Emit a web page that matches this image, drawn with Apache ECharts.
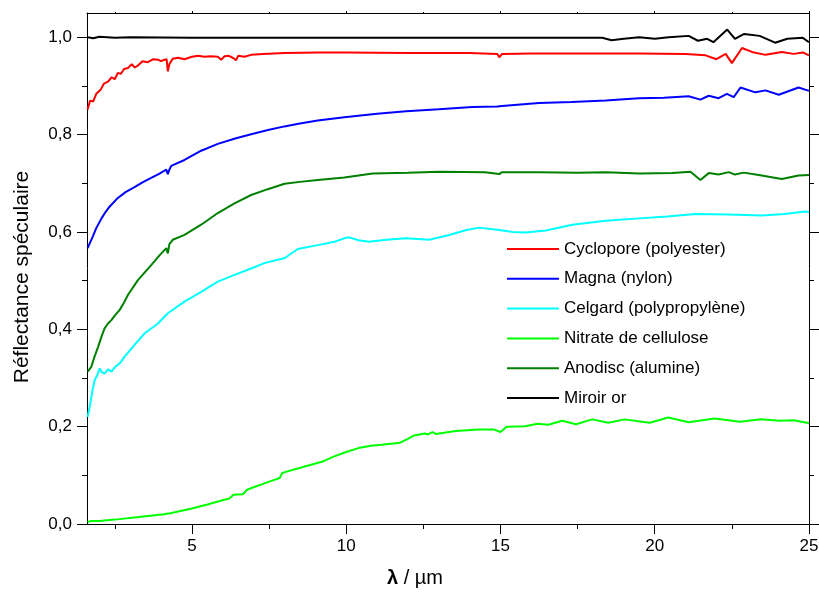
<!DOCTYPE html>
<html><head><meta charset="utf-8">
<script src="https://cdn.jsdelivr.net/npm/echarts@6/dist/echarts.min.js"></script>
<style>html,body{margin:0;padding:0;background:#fff}#c{width:819px;height:592px}</style>
</head><body><div id="c"></div>
<script>
// ---- data ----
const seriesNames = ['Cyclopore (polyester)', 'Magna (nylon)', 'Celgard (polypropylène)', 'Nitrate de cellulose', 'Anodisc (alumine)', 'Miroir or'];
const seriesColors = ['#ff0000', '#0000ff', '#00ffff', '#00ff00', '#008000', '#000000'];

const xMajorTicks = [5, 10, 15, 20, 25];
const xMinorTicks = [2.5, 7.5, 12.5, 17.5, 22.5];
const yMajorTicks = [0, 0.2, 0.4, 0.6, 0.8, 1.0];
const yMinorTicks = [0.1, 0.3, 0.5, 0.7, 0.9];

const cyclopore = [[1.62,0.852],[1.7,0.87],[1.8,0.868],[1.9,0.884],[1.96,0.886],[2.05,0.893],[2.15,0.905],[2.28,0.909],[2.4,0.918],[2.5,0.914],[2.6,0.927],[2.7,0.925],[2.8,0.935],[2.93,0.937],[3.05,0.945],[3.15,0.938],[3.25,0.942],[3.4,0.951],[3.57,0.949],[3.75,0.955],[3.9,0.954],[4.0,0.951],[4.11,0.954],[4.18,0.955],[4.22,0.930],[4.27,0.945],[4.38,0.956],[4.55,0.958],[4.76,0.955],[5.0,0.960],[5.2,0.962],[5.41,0.960],[5.6,0.961],[5.84,0.960],[5.9,0.963],[5.95,0.954],[6.05,0.961],[6.2,0.962],[6.35,0.957],[6.43,0.953],[6.5,0.962],[6.7,0.960],[6.92,0.964],[7.3,0.966],[8.0,0.968],[9.08,0.969],[10.0,0.969],[12,0.968],[14.0,0.968],[14.9,0.966],[14.96,0.959],[15.05,0.966],[16,0.967],[18,0.967],[19.5,0.967],[21.0,0.966],[21.65,0.963],[22.0,0.955],[22.3,0.966],[22.5,0.947],[22.83,0.978],[23.15,0.970],[23.59,0.964],[24.12,0.970],[24.5,0.966],[24.8,0.969],[25,0.963]];

const magna = [[1.62,0.567],[1.79,0.591],[1.9,0.608],[2.07,0.628],[2.2,0.641],[2.33,0.652],[2.6,0.670],[2.85,0.682],[3.14,0.692],[3.4,0.702],[3.68,0.711],[3.95,0.720],[4.17,0.728],[4.2,0.725],[4.22,0.719],[4.27,0.728],[4.33,0.736],[4.76,0.748],[5.3,0.767],[5.84,0.781],[6.4,0.792],[6.92,0.801],[7.5,0.810],[8.0,0.817],[8.5,0.823],[9.08,0.829],[9.94,0.836],[11.0,0.843],[11.94,0.848],[13.0,0.852],[14.09,0.857],[14.9,0.858],[14.96,0.854],[15.05,0.859],[16.25,0.865],[17.3,0.867],[18.41,0.870],[19.49,0.875],[20.3,0.876],[21.1,0.879],[21.48,0.872],[21.75,0.880],[22.07,0.875],[22.34,0.884],[22.56,0.877],[22.78,0.897],[23.26,0.887],[23.59,0.891],[24.02,0.882],[24.66,0.897],[25,0.890]];

const celgard = [[1.62,0.220],[1.7,0.245],[1.78,0.275],[1.85,0.296],[1.93,0.305],[2.01,0.320],[2.08,0.312],[2.17,0.309],[2.28,0.318],[2.39,0.313],[2.5,0.322],[2.6,0.327],[2.7,0.333],[2.82,0.344],[3.14,0.368],[3.47,0.392],[3.9,0.412],[4.22,0.433],[4.76,0.457],[5.3,0.477],[5.84,0.498],[6.38,0.512],[6.92,0.525],[7.35,0.536],[7.78,0.543],[8.0,0.546],[8.43,0.565],[9.08,0.573],[9.62,0.580],[9.94,0.587],[10.1,0.589],[10.4,0.583],[10.75,0.580],[11.3,0.584],[11.94,0.587],[12.69,0.584],[13.34,0.594],[13.9,0.604],[14.31,0.609],[14.96,0.604],[15.4,0.600],[15.82,0.599],[16.47,0.603],[17.33,0.615],[18.41,0.623],[19.49,0.628],[20.4,0.632],[21.32,0.637],[22.4,0.636],[23.48,0.634],[24.2,0.637],[24.88,0.642],[25,0.641]];

const nitrate = [[1.62,0.004],[1.71,0.006],[2.0,0.006],[2.5,0.009],[3.35,0.015],[4.1,0.020],[4.18,0.021],[4.22,0.018],[4.3,0.022],[5.0,0.032],[5.5,0.040],[6.05,0.050],[6.2,0.052],[6.35,0.060],[6.65,0.061],[6.8,0.071],[7.2,0.080],[7.55,0.088],[7.78,0.093],[7.85,0.095],[7.93,0.105],[8.6,0.117],[9.27,0.129],[9.57,0.138],[10.0,0.148],[10.4,0.156],[10.8,0.161],[11.15,0.163],[11.75,0.167],[12.0,0.175],[12.2,0.182],[12.55,0.186],[12.65,0.184],[12.8,0.189],[12.9,0.185],[13.55,0.191],[14.3,0.194],[14.8,0.194],[15.0,0.189],[15.2,0.200],[15.8,0.201],[16.2,0.206],[16.55,0.204],[17.0,0.212],[17.45,0.205],[17.97,0.215],[18.5,0.208],[19.02,0.215],[19.84,0.208],[20.44,0.219],[21.1,0.209],[21.94,0.217],[22.76,0.210],[23.44,0.215],[24.04,0.212],[24.5,0.213],[24.93,0.208],[25,0.207]];

const anodisc = [[1.62,0.313],[1.74,0.323],[1.85,0.345],[1.96,0.364],[2.07,0.385],[2.17,0.402],[2.28,0.412],[2.39,0.419],[2.5,0.428],[2.66,0.440],[2.8,0.455],[2.93,0.471],[3.25,0.501],[3.68,0.532],[3.95,0.552],[4.17,0.567],[4.22,0.556],[4.27,0.575],[4.38,0.584],[4.76,0.594],[5.3,0.615],[5.84,0.639],[6.38,0.659],[6.92,0.676],[7.46,0.688],[8.0,0.699],[8.5,0.703],[9.08,0.707],[9.94,0.712],[10.86,0.720],[12,0.722],[13.01,0.724],[14.5,0.723],[14.96,0.719],[15.05,0.723],[16.25,0.723],[17.5,0.722],[18.41,0.723],[19.5,0.720],[20.57,0.721],[21.16,0.724],[21.48,0.707],[21.75,0.721],[22.07,0.718],[22.4,0.723],[22.6,0.718],[22.88,0.722],[23.37,0.717],[24.12,0.709],[24.66,0.716],[25,0.717]];

const miroir = [[1.62,1.0],[1.8,0.998],[2.0,1.001],[2.5,0.999],[3.0,1.0],[5,0.999],[10,0.999],[15,0.999],[18.3,0.999],[18.6,0.994],[19.0,0.997],[19.5,1.0],[20,0.997],[20.45,1.0],[21.1,1.003],[21.4,0.993],[21.7,0.997],[21.9,0.990],[22.35,1.016],[22.6,0.997],[22.9,1.007],[23.4,1.003],[23.9,0.989],[24.3,0.997],[24.8,0.999],[25,0.990]];

const seriesData = [cyclopore, magna, celgard, nitrate, anodisc, miroir];

// ---- chart ----
const FONT = '"Liberation Sans", Arial, sans-serif';
const chart = echarts.init(document.getElementById('c'), null, {renderer: 'canvas'});
const axisLineStyle = {color: '#000', width: 1};
function xAx(pos, ticks, len, labels, showLine) {
  return {
    type: 'value', position: pos, min: 1.6, max: 25, gridIndex: 0,
    axisLine: {show: showLine, onZero: false, lineStyle: axisLineStyle},
    axisTick: {show: true, inside: false, length: len, customValues: ticks, lineStyle: axisLineStyle},
    axisLabel: labels ? {show: true, customValues: ticks, margin: 14, color: '#000', fontSize: 17, fontFamily: FONT} : {show: false},
    splitLine: {show: false}, minorTick: {show: false}
  };
}
function yAx(pos, ticks, len, labels, showLine) {
  return {
    type: 'value', position: pos, min: 0, max: 1.05, gridIndex: 0,
    axisLine: {show: showLine, onZero: false, lineStyle: axisLineStyle},
    axisTick: {show: true, inside: false, length: len, customValues: ticks, lineStyle: axisLineStyle},
    axisLabel: labels ? {show: true, customValues: ticks, margin: 15, color: '#000', fontSize: 17, fontFamily: FONT,
      formatter: v => v.toFixed(1).replace('.', ',')} : {show: false},
    splitLine: {show: false}, minorTick: {show: false}
  };
}

const option = {
  animation: false,
  backgroundColor: '#fff',
  grid: {left: 87, top: 13, width: 722, height: 511, containLabel: false, outerBoundsMode: 'none'},
  xAxis: [
    xAx('bottom', xMajorTicks, 10, true, true),
    xAx('bottom', xMinorTicks, 5, false, false),
    xAx('top', xMajorTicks, 2, false, true),
    xAx('top', xMinorTicks, 1, false, false)
  ],
  yAxis: [
    yAx('left', yMajorTicks, 10, true, true),
    yAx('left', yMinorTicks, 5, false, false),
    yAx('right', yMajorTicks, 10, false, true),
    yAx('right', yMinorTicks, 5, false, false)
  ],
  legend: {
    show: true, orient: 'vertical', left: 502, top: 234,
    icon: 'rect', itemWidth: 52, itemHeight: 2, itemGap: 9.8,
    textStyle: {color: '#000', fontSize: 17, fontFamily: FONT, lineHeight: 20, height: 20},
    data: seriesNames
  },
  graphic: [
    {type: 'text', x: 415, y: 578, style: {text: '{b|λ} / µm', fill: '#000', font: '20px ' + FONT, align: 'center', verticalAlign: 'middle',
      rich: {b: {fontWeight: 'bold', fontSize: 20, fontFamily: FONT, fill: '#000'}}}},
    {type: 'text', x: 22, y: 277, rotation: Math.PI / 2, style: {text: 'Réflectance spéculaire', fill: '#000', font: '21px ' + FONT, align: 'center', verticalAlign: 'middle'}}
  ],
  series: seriesNames.map((n, i) => ({
    name: n, type: 'line', xAxisIndex: 0, yAxisIndex: 0,
    data: seriesData[i], symbol: 'none', showSymbol: false, smooth: false,
    lineStyle: {color: seriesColors[i], width: 2}, itemStyle: {color: seriesColors[i]},
    emphasis: {disabled: true}
  }))
};
chart.setOption(option);
</script>
</body></html>
